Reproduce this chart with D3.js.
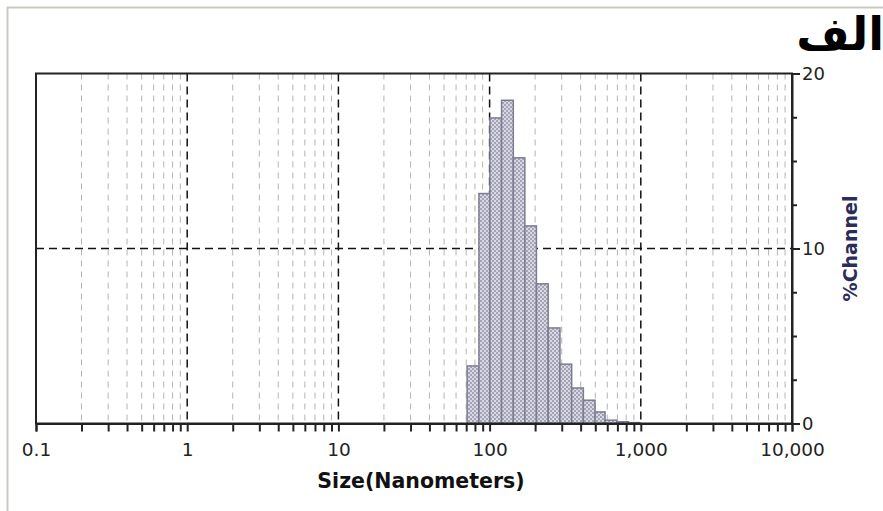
<!DOCTYPE html>
<html>
<head>
<meta charset="utf-8">
<script src="https://cdn.jsdelivr.net/npm/d3@7"></script>
<style>
  body { margin: 0; background: #fff; }
  svg { display: block; }
</style>
</head>
<body>
<svg id="chart" width="883" height="511"></svg>
<script>
// bin edges (nm) and % per channel
const binEdges = [71, 85, 100.5, 120, 143.5, 171, 204, 244, 292, 349, 417, 498, 580, 694, 828, 985];
const channelPct = [3.29, 13.14, 17.46, 18.47, 15.18, 11.29, 7.98, 5.46, 3.39, 2.03, 1.33, 0.66, 0.19, 0.1, 0.05];
const decades = [0.1, 1, 10, 100, 1000, 10000];
const decadeLabels = ["0.1", "1", "10", "100", "1,000", "10,000"];
const yTicks = [0, 10, 20];
const yMinor = [2.5, 5, 7.5, 12.5, 15, 17.5];
const title = "الف";

const W = 883, H = 511;
const pLeft = 36, pRight = 792, pTop = 73.5, pBottom = 423.5;

const svg = d3.select("#chart");

const x = d3.scaleLog().domain([0.1, 10000]).range([pLeft, pRight]);
const y = d3.scaleLinear().domain([0, 20]).range([pBottom, pTop]);

// all 1..9 multiples inside the range
let allTicks = [];
decades.slice(0, -1).forEach(d => {
  for (let k = 1; k <= 9; k++) allTicks.push(d * k);
});
allTicks.push(10000);
const minorTicks = allTicks.filter(v => !decades.includes(v));
const majorInner = decades.slice(1, -1);

// outer light frame
svg.append("rect").attr("x", 0).attr("y", 0).attr("width", W).attr("height", H).attr("fill", "#fff");
svg.append("path")
  .attr("d", `M7.5,${H} V7.5 H${W}`)
  .attr("fill", "none").attr("stroke", "#c9c9c3").attr("stroke-width", 2);

// pattern for the bars
const defs = svg.append("defs");
const pat = defs.append("pattern").attr("id", "chk")
  .attr("width", 4).attr("height", 4).attr("patternUnits", "userSpaceOnUse");
pat.append("rect").attr("width", 4).attr("height", 4).attr("fill", "#d8d8e2");
pat.append("rect").attr("width", 2).attr("height", 2).attr("fill", "#a4a4b6");
pat.append("rect").attr("x", 2).attr("y", 2).attr("width", 2).attr("height", 2).attr("fill", "#a4a4b6");

// grid
svg.append("g").selectAll("line")
  .data(minorTicks)
  .join("line")
    .attr("x1", d => x(d)).attr("x2", d => x(d))
    .attr("y1", pTop).attr("y2", pBottom)
    .attr("stroke", "#b4b4b4").attr("stroke-width", 1)
    .attr("stroke-dasharray", "6,5");

svg.append("g").selectAll("line")
  .data(majorInner)
  .join("line")
    .attr("x1", d => x(d)).attr("x2", d => x(d))
    .attr("y1", pTop).attr("y2", pBottom)
    .attr("stroke", "#111").attr("stroke-width", 1.5)
    .attr("stroke-dasharray", "8,5");

svg.append("line")
  .attr("x1", pLeft).attr("x2", pRight)
  .attr("y1", y(10)).attr("y2", y(10))
  .attr("stroke", "#111").attr("stroke-width", 1.5)
  .attr("stroke-dasharray", "8,5");

// histogram bars
svg.append("g").selectAll("rect")
  .data(channelPct)
  .join("rect")
    .attr("x", (d, i) => x(binEdges[i]))
    .attr("width", (d, i) => x(binEdges[i + 1]) - x(binEdges[i]))
    .attr("y", d => y(d))
    .attr("height", d => y(0) - y(d))
    .attr("fill", "url(#chk)")
    .attr("stroke", "#7c7c90").attr("stroke-width", 1.5);

// plot frame
svg.append("rect")
  .attr("x", pLeft).attr("y", pTop)
  .attr("width", pRight - pLeft).attr("height", pBottom - pTop)
  .attr("fill", "none").attr("stroke", "#222").attr("stroke-width", 2);

// x axis
const xAxis = d3.axisBottom(x)
  .tickValues(allTicks)
  .tickSize(8)
  .tickFormat(d => {
    const i = decades.indexOf(d);
    return i >= 0 ? decadeLabels[i] : "";
  });
const gx = svg.append("g").attr("transform", `translate(0,${pBottom})`).call(xAxis);
gx.select(".domain").attr("stroke", "#222").attr("stroke-width", 2);
gx.selectAll(".tick line").attr("stroke", "#222").attr("stroke-width", 2);
gx.selectAll("text")
  .attr("font-family", "DejaVu Sans, sans-serif").attr("font-size", 18.5)
  .attr("fill", "#222").attr("dy", 0).attr("y", 32);

// y axis on the right
const yAxis = d3.axisRight(y).tickValues(yTicks).tickSize(8).tickPadding(2);
const gy = svg.append("g").attr("transform", `translate(${pRight},0)`).call(yAxis);
gy.select(".domain").attr("stroke", "#222").attr("stroke-width", 2);
gy.selectAll(".tick line").attr("stroke", "#222").attr("stroke-width", 2);
gy.selectAll("text")
  .attr("font-family", "DejaVu Sans, sans-serif").attr("font-size", 18)
  .attr("fill", "#222");

const gym = svg.append("g").attr("transform", `translate(${pRight},0)`)
  .call(d3.axisRight(y).tickValues(yMinor).tickSize(5).tickFormat(""));
gym.select(".domain").remove();
gym.selectAll(".tick line").attr("stroke", "#222").attr("stroke-width", 2);

// axis titles
svg.append("text")
  .attr("x", 421).attr("y", 488)
  .attr("text-anchor", "middle")
  .attr("font-family", "DejaVu Sans, sans-serif").attr("font-weight", "bold")
  .attr("font-size", 20.5).attr("fill", "#111")
  .text("Size(Nanometers)");

svg.append("text")
  .attr("transform", `translate(857,${y(10)}) rotate(-90)`)
  .attr("text-anchor", "middle")
  .attr("font-family", "DejaVu Sans, sans-serif").attr("font-weight", "bold")
  .attr("font-size", 19).attr("fill", "#2c2c5c")
  .text("%Channel");

// title
svg.append("text")
  .attr("x", 884).attr("y", 50)
  .attr("text-anchor", "end")
  .attr("font-family", "DejaVu Sans, sans-serif").attr("font-weight", "bold")
  .attr("font-size", 46).attr("fill", "#000")
  .text(title);
</script>
</body>
</html>
